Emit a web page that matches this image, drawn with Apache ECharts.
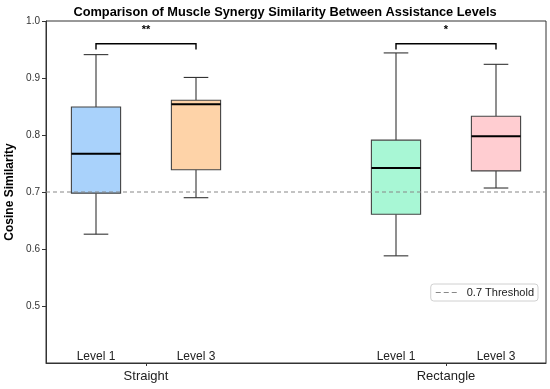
<!DOCTYPE html>
<html><head><meta charset="utf-8">
<script src="https://cdn.jsdelivr.net/npm/echarts@6/dist/echarts.min.js"></script>
<style>html,body{margin:0;padding:0;background:#fff}#c{width:550px;height:389px}</style>
</head><body><div id="c"></div>
<script>
// ---- data ----
const groups = ['Straight', 'Rectangle'];
const levels = ['Level 1', 'Level 3'];
// [low whisker, Q1, median, Q3, high whisker]
const straightLevel1 = [0.626, 0.698, 0.767, 0.849, 0.941];
const straightLevel3 = [0.690, 0.739, 0.854, 0.861, 0.901];
const rectangleLevel1 = [0.588, 0.661, 0.742, 0.791, 0.944];
const rectangleLevel3 = [0.707, 0.737, 0.798, 0.833, 0.924];
const boxColors = ['#a9d2fb', '#fed3a8', '#a8f7d5', '#ffcdd1'];
const threshold = 0.7;
const sigLabels = ['**', '*'];
const bracketTop = 0.96, bracketTip = 0.95, starY = 0.985;
const yTicks = [0.5, 0.6, 0.7, 0.8, 0.9, 1.0];

const off = 1/6, boxW = 0.164, xMin = -1/3, xMax = 4/3;
const boxes = [
  [0 - off, ...straightLevel1, 0],
  [0 + off, ...straightLevel3, 1],
  [1 - off, ...rectangleLevel1, 2],
  [1 + off, ...rectangleLevel3, 3]
];
const levelLabels = boxes.map((b, i) => [b[0], levels[i % 2]]);
const brackets = groups.map((g, i) => [i - off, i + off, sigLabels[i]]);

const chart = echarts.init(document.getElementById('c'), null, {renderer: 'canvas'});
chart.setOption({
  animation: false,
  title: {text: 'Comparison of Muscle Synergy Similarity Between Assistance Levels', left: 280, textAlign: 'center', top: 1,
    textStyle: {fontFamily: 'Liberation Sans, Arial', fontSize: 12.8, fontWeight: 'bold', color: '#000'}},
  grid: {left: 46, right: 4, top: 21, bottom: 26, show: true, borderColor: '#333', borderWidth: 1, outerBoundsMode: 'none', containLabel: false},
  legend: {data: [{name: '0.7 Threshold', icon: 'path://M0,0h5v1h-5z M8,0h5v1h-5z M16,0h5v1h-5z'}],
    right: 12, top: 284, itemWidth: 21, itemHeight: 1.5, itemGap: 8,
    borderColor: '#d0d0d0', borderWidth: 1, borderRadius: 3, padding: [3, 4, 3, 5],
    textStyle: {fontFamily: 'Liberation Sans, Arial', fontSize: 11, color: '#222', padding: [0, 0, 0, 5]}},
  xAxis: {type: 'value', min: xMin, max: xMax, splitLine: {show: false},
    axisLine: {show: true, onZero: false, lineStyle: {color: '#333'}},
    axisTick: {show: true, customValues: [0, 1], length: 3, lineStyle: {color: '#333'}},
    axisLabel: {customValues: [0, 1], formatter: v => groups[Math.round(v)], margin: 7,
      fontFamily: 'Liberation Sans, Arial', fontSize: 13, color: '#222'}},
  yAxis: {type: 'value', min: 0.4, max: 1.0, interval: 0.1, splitLine: {show: false},
    name: 'Cosine Similarity', nameLocation: 'middle', nameGap: 30,
    nameTextStyle: {fontFamily: 'Liberation Sans, Arial', fontSize: 12, fontWeight: 'bold', color: '#000'},
    axisLine: {show: true, onZero: false, lineStyle: {color: '#333'}},
    axisTick: {show: true, customValues: yTicks, length: 4, lineStyle: {color: '#333'}},
    axisLabel: {customValues: yTicks, formatter: v => v.toFixed(1), margin: 6,
      fontFamily: 'Liberation Sans, Arial', fontSize: 10, color: '#333'}},
  series: [
    {name: '0.7 Threshold', type: 'line', data: [[xMin, threshold], [xMax, threshold]], showSymbol: false, z: 5,
      itemStyle: {color: '#888'}, lineStyle: {color: '#888', width: 1.2, type: [4, 3]}, silent: true},
    {type: 'custom', z: 3, data: boxes, renderItem: (params, api) => {
      const x = api.value(0);
      const lo = api.coord([x, api.value(1)]), q1 = api.coord([x, api.value(2)]), md = api.coord([x, api.value(3)]),
            q3 = api.coord([x, api.value(4)]), hi = api.coord([x, api.value(5)]);
      const w = api.size([boxW, 0])[0], cw = w / 2;
      const col = boxColors[api.value(6)];
      const ls = {stroke: '#333', lineWidth: 1.1};
      return {type: 'group', children: [
        {type: 'line', shape: {x1: lo[0], y1: lo[1], x2: q1[0], y2: q1[1]}, style: ls},
        {type: 'line', shape: {x1: q3[0], y1: q3[1], x2: hi[0], y2: hi[1]}, style: ls},
        {type: 'line', shape: {x1: lo[0] - cw / 2, y1: lo[1], x2: lo[0] + cw / 2, y2: lo[1]}, style: ls},
        {type: 'line', shape: {x1: hi[0] - cw / 2, y1: hi[1], x2: hi[0] + cw / 2, y2: hi[1]}, style: ls},
        {type: 'rect', shape: {x: q1[0] - w / 2, y: q3[1], width: w, height: q1[1] - q3[1]}, style: {fill: col, stroke: '#444', lineWidth: 1.1}},
        {type: 'line', shape: {x1: md[0] - w / 2, y1: md[1], x2: md[0] + w / 2, y2: md[1]}, style: {stroke: '#000', lineWidth: 2}}
      ]};
    }},
    {type: 'custom', z: 6, data: brackets, renderItem: (params, api) => {
      const a = api.coord([api.value(0), bracketTip]), b = api.coord([api.value(0), bracketTop]);
      const c = api.coord([api.value(1), bracketTop]), d = api.coord([api.value(1), bracketTip]);
      const s = api.coord([(api.value(0) + api.value(1)) / 2, starY]);
      return {type: 'group', children: [
        {type: 'polyline', shape: {points: [a, b, c, d]}, style: {stroke: '#000', lineWidth: 1.4, fill: null}},
        {type: 'text', x: s[0], y: s[1], style: {text: brackets[params.dataIndex][2], align: 'center', verticalAlign: 'middle',
          font: 'bold 11px Liberation Sans, Arial', fill: '#000'}}
      ]};
    }},
    {type: 'custom', z: 6, data: levelLabels, renderItem: (params, api) => {
      const p = api.coord([api.value(0), 0.4]);
      return {type: 'text', x: p[0], y: p[1] - 6, style: {text: levelLabels[params.dataIndex][1], align: 'center', verticalAlign: 'middle',
        font: '12px Liberation Sans, Arial', fill: '#222'}};
    }}
  ]
});
</script></body></html>
